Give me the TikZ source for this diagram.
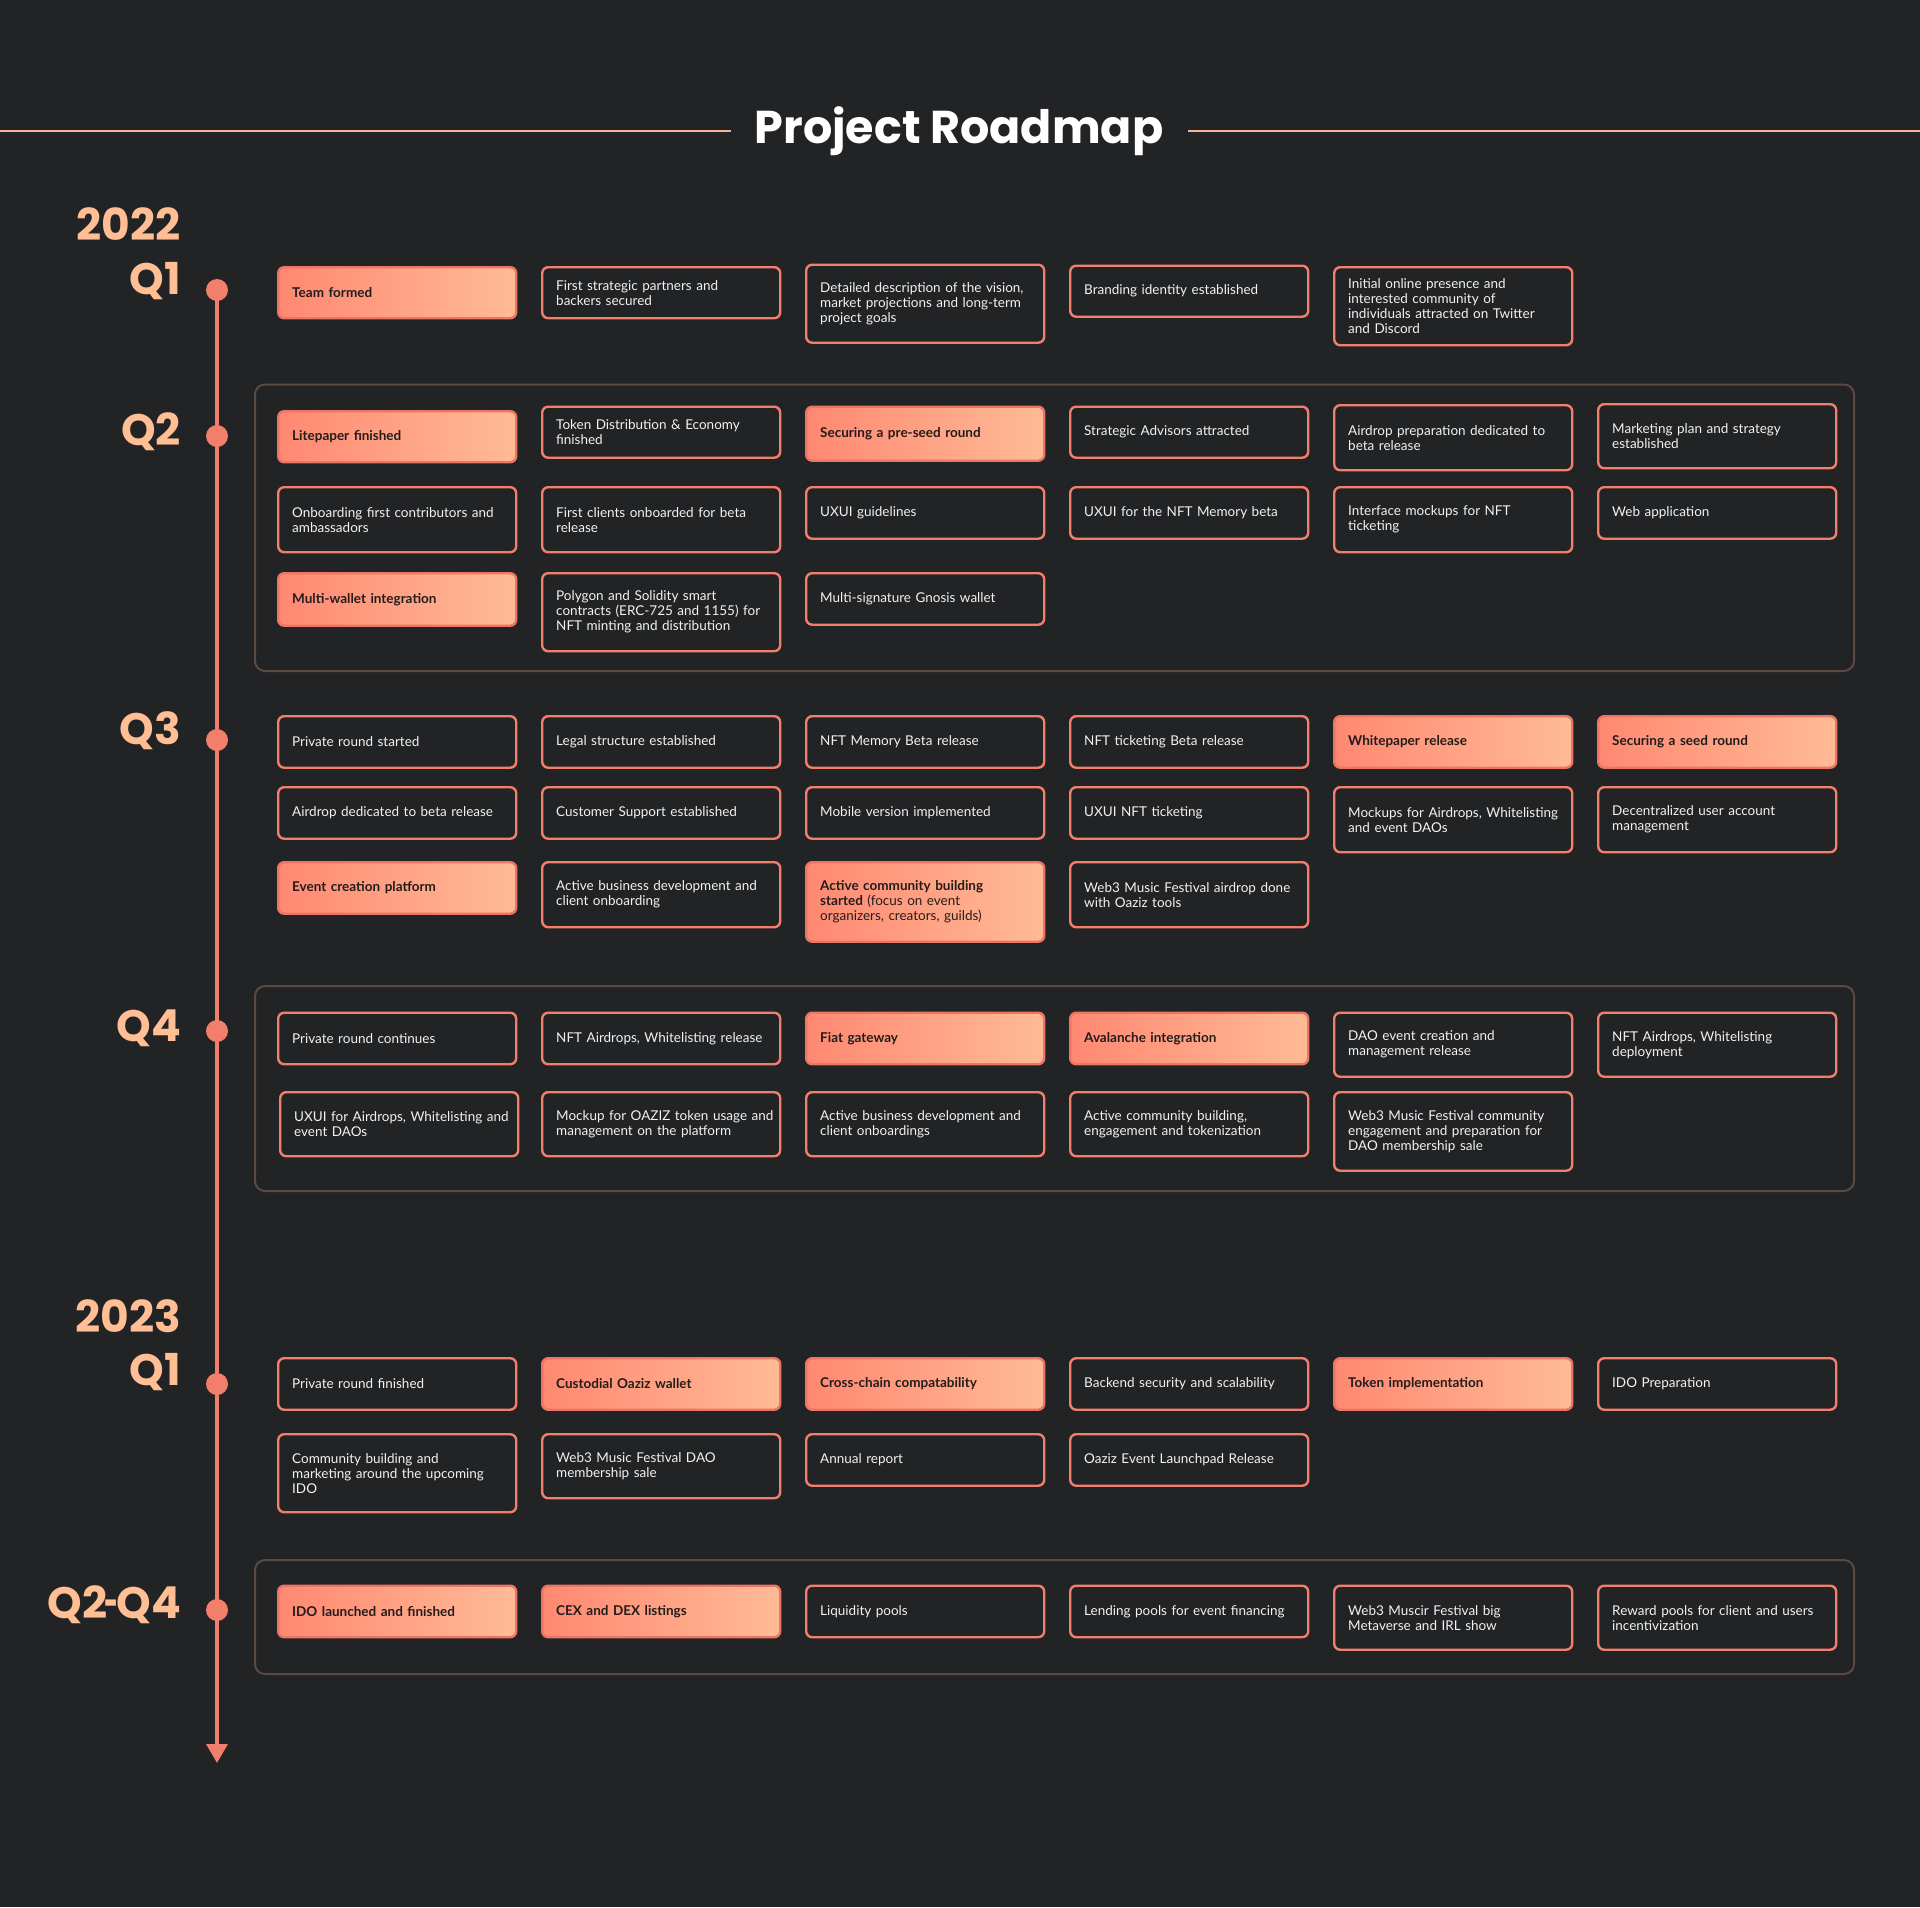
\documentclass[tikz,border=0pt]{standalone}
\usepackage{fontspec}
\usepackage{graphicx}
\setmainfont{Lato}
\newfontfamily\headfont{Poppins}
\usetikzlibrary{arrows.meta}
\definecolor{bgc}{HTML}{222325}
\definecolor{salm}{HTML}{F27E6C}
\definecolor{peach}{HTML}{FFBE94}
\definecolor{hlL}{HTML}{FF8872}
\definecolor{hlR}{HTML}{FFBB96}
\definecolor{hlD}{HTML}{EC7565}
\definecolor{dark}{HTML}{241C1C}
\definecolor{frm}{HTML}{5C4942}
\definecolor{hline}{HTML}{F2B497}
\definecolor{txt}{HTML}{F2F2F2}
\newcommand\bodyfnt{\fontsize{13.5}{15}\selectfont}
\newcommand\rbx[6]{\node[#2, minimum height=#5pt] (#1) at (#3,#4) {#6};}
\begin{document}
\begin{tikzpicture}[x=1pt,y=-1pt,
  itm/.style={draw=salm, line width=2.4pt, rounded corners=6pt, fill=bgc, text=txt,
    font=\bodyfnt, text width=210pt, inner xsep=14pt, inner ysep=0pt, align=left,
    anchor=north west, minimum width=238pt},
  hl/.style={itm, draw=hlD, left color=hlL, right color=hlR, text=dark, font=\bodyfnt\bfseries},
  frame/.style={draw=frm, line width=2pt, rounded corners=10pt},
  dot/.style={circle, fill=salm, minimum size=22pt, inner sep=0pt},
  year/.style={text=peach, font=\headfont\bfseries\fontsize{44}{48}\selectfont, anchor=east, inner sep=0pt},
  tl/.style={draw=salm, line width=3.5pt}
]
\fill[bgc] (0,0) rectangle (1920,1907);
\useasboundingbox (0,0) rectangle (1920,1907);

% title
\node[text=white, font=\headfont\bfseries\fontsize{46}{52}\selectfont, inner sep=0pt] (title) at (959,131) {Project Roadmap};
\coordinate (hla) at (0,131);
\coordinate (hlb) at (731,131);
\coordinate (hlc) at (1188,131);
\coordinate (hld) at (1920,131);
\draw[hline, line width=2.2pt] (hla) -- (hlb);
\draw[hline, line width=2.2pt] (hlc) -- (hld);

% frames
\draw[frame] (255,384.5) rectangle (1854,671);
\draw[frame] (255,986) rectangle (1854,1191);
\draw[frame] (255,1560) rectangle (1854,1674);

% timeline
\coordinate (tlend) at (217,1763);
\node[dot] (d1) at (217,290) {};
\node[dot] (d2) at (217,436) {};
\node[dot] (d3) at (217,740) {};
\node[dot] (d4) at (217,1031) {};
\node[dot] (d5) at (217,1384) {};
\node[dot] (d6) at (217,1610) {};
\draw[tl, -{Triangle[width=21pt,length=19pt]}] (d1.center) -- (tlend);

% labels
\node[year] (y22) at (181,224) {2022};
\node[year] (q1a) at (181,281) {Q1};
\node[year] (q2a) at (181,432) {Q2};
\node[year] (q3a) at (181,731) {Q3};
\node[year] (q4a) at (181,1028) {Q4};
\node[year] (y23) at (181,1316) {2023};
\node[year] (q1b) at (181,1372) {Q1};
\node[year] (q24) at (181,1605) {Q2\kern-2.5pt\scalebox{0.55}[1]{-}\kern-2.5pt Q4};

% 2022 Q1
\rbx{a1}{hl}{277}{266}{51}{Team formed}
\rbx{a2}{itm}{541}{266}{51}{First strategic partners and\\backers secured}
\rbx{a3}{itm}{805}{263.5}{78}{Detailed description of the vision,\\market projections and long-term\\project goals}
\rbx{a4}{itm}{1069}{264.5}{51}{Branding identity established}
\rbx{a5}{itm}{1333}{266}{78}{Initial online presence and\\interested community of\\individuals attracted on Twitter\\and Discord}

% Q2
\rbx{b1}{hl}{277}{410}{51}{Litepaper finished}
\rbx{b2}{itm}{541}{405.5}{51}{Token Distribution \& Economy\\finished}
\rbx{b3}{hl}{805}{405.5}{54}{Securing a pre-seed round}
\rbx{b4}{itm}{1069}{405.5}{51}{Strategic Advisors attracted}
\rbx{b5}{itm}{1333}{404}{65}{Airdrop preparation dedicated to\\beta release}
\rbx{b6}{itm}{1597}{403}{64}{Marketing plan and strategy\\established}
\rbx{b7}{itm}{277}{486}{65}{Onboarding first contributors and\\ambassadors}
\rbx{b8}{itm}{541}{486}{65}{First clients onboarded for beta\\release}
\rbx{b9}{itm}{805}{486}{51.5}{UXUI guidelines}
\rbx{b10}{itm}{1069}{486}{51.5}{UXUI for the NFT Memory beta}
\rbx{b11}{itm}{1333}{486}{65}{Interface mockups for NFT\\ticketing}
\rbx{b12}{itm}{1597}{486}{51.5}{Web application}
\rbx{b13}{hl}{277}{572}{52.5}{Multi-wallet integration}
\rbx{b14}{itm}{541}{572}{78}{Polygon and Solidity smart\\contracts (ERC-725 and 1155) for\\NFT minting and distribution}
\rbx{b15}{itm}{805}{572}{51.5}{Multi-signature Gnosis wallet}

% Q3
\rbx{c1}{itm}{277}{715}{51.5}{Private round started}
\rbx{c2}{itm}{541}{715}{51.5}{Legal structure established}
\rbx{c3}{itm}{805}{715}{51.5}{NFT Memory Beta release}
\rbx{c4}{itm}{1069}{715}{51.5}{NFT ticketing Beta release}
\rbx{c5}{hl}{1333}{715}{51.5}{Whitepaper release}
\rbx{c6}{hl}{1597}{715}{51.5}{Securing a seed round}
\rbx{c7}{itm}{277}{786}{51.5}{Airdrop dedicated to beta release}
\rbx{c8}{itm}{541}{786}{51.5}{Customer Support established}
\rbx{c9}{itm}{805}{786}{51.5}{Mobile version implemented}
\rbx{c10}{itm}{1069}{786}{51.5}{UXUI NFT ticketing}
\rbx{c11}{itm}{1333}{786}{65}{Mockups for Airdrops, Whitelisting\\and event DAOs}
\rbx{c12}{itm}{1597}{786}{65}{Decentralized user account\\management}
\rbx{c13}{hl}{277}{861}{51.5}{Event creation platform}
\rbx{c14}{itm}{541}{861}{65}{Active business development and\\client onboarding}
\rbx{c15}{hl}{805}{861}{79.5}{Active community building\\started {\mdseries (focus on event}\\{\mdseries organizers, creators, guilds)}}
\rbx{c16}{itm}{1069}{861}{65}{Web3 Music Festival airdrop done\\with Oaziz tools}

% Q4
\rbx{e1}{itm}{277}{1011.5}{51.5}{Private round continues}
\rbx{e2}{itm}{541}{1011.5}{51.5}{\mbox{NFT Airdrops, Whitelisting release}}
\rbx{e3}{hl}{805}{1011.5}{51.5}{Fiat gateway}
\rbx{e4}{hl}{1069}{1011.5}{51.5}{Avalanche integration}
\rbx{e5}{itm}{1333}{1011.5}{64}{DAO event creation and\\management release}
\rbx{e6}{itm}{1597}{1011.5}{64}{NFT Airdrops, Whitelisting\\deployment}
\rbx{e7}{itm}{279}{1091}{64}{\mbox{UXUI for Airdrops, Whitelisting and}\\event DAOs}
\rbx{e8}{itm}{541}{1091}{64}{\mbox{Mockup for OAZIZ token usage and}\\management on the platform}
\rbx{e9}{itm}{805}{1091}{64}{Active business development and\\client onboardings}
\rbx{e10}{itm}{1069}{1091}{64}{Active community building,\\engagement and tokenization}
\rbx{e11}{itm}{1333}{1091}{78.5}{Web3 Music Festival community\\engagement and preparation for\\DAO membership sale}

% 2023 Q1
\rbx{f1}{itm}{277}{1357}{51.5}{Private round finished}
\rbx{f2}{hl}{541}{1357}{51.5}{Custodial Oaziz wallet}
\rbx{f3}{hl}{805}{1357}{51.5}{Cross-chain compatability}
\rbx{f4}{itm}{1069}{1357}{51.5}{Backend security and scalability}
\rbx{f5}{hl}{1333}{1357}{51.5}{Token implementation}
\rbx{f6}{itm}{1597}{1357}{51.5}{IDO Preparation}
\rbx{f7}{itm}{277}{1433}{78}{Community building and\\marketing around the upcoming\\IDO}
\rbx{f8}{itm}{541}{1433}{64}{Web3 Music Festival DAO\\membership sale}
\rbx{f9}{itm}{805}{1433}{51.5}{Annual report}
\rbx{f10}{itm}{1069}{1433}{51.5}{Oaziz Event Launchpad Release}

% Q2-Q4
\rbx{g1}{hl}{277}{1584.5}{51.5}{IDO launched and finished}
\rbx{g2}{hl}{541}{1584.5}{51.5}{CEX and DEX listings}
\rbx{g3}{itm}{805}{1584.5}{51.5}{Liquidity pools}
\rbx{g4}{itm}{1069}{1584.5}{51.5}{Lending pools for event financing}
\rbx{g5}{itm}{1333}{1584.5}{64}{Web3 Muscir Festival big\\Metaverse and IRL show}
\rbx{g6}{itm}{1597}{1584.5}{64}{Reward pools for client and users\\incentivization}
\end{tikzpicture}
\end{document}
